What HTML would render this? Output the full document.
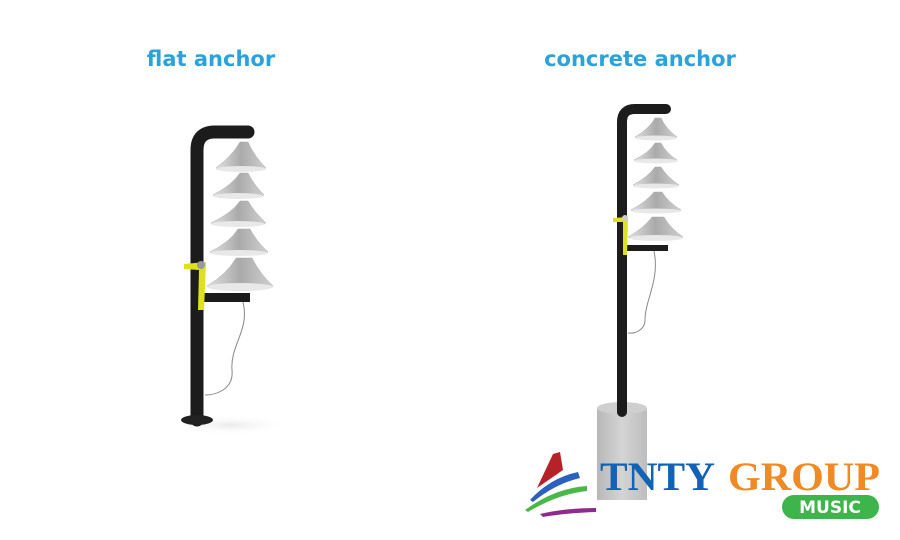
<!DOCTYPE html>
<html><head><meta charset="utf-8"><style>
html,body{margin:0;padding:0;background:#fff;}
svg{display:block}
</style></head><body>
<svg width="900" height="540" viewBox="0 0 900 540" xmlns="http://www.w3.org/2000/svg">
<defs>
<linearGradient id="cone" x1="0" y1="0" x2="1" y2="0">
<stop offset="0" stop-color="#e0e0e0"/><stop offset="0.5" stop-color="#aaaaaa"/><stop offset="1" stop-color="#d0d0d0"/>
</linearGradient>
<linearGradient id="conc" x1="0" y1="0" x2="1" y2="0">
<stop offset="0" stop-color="#b8b8b8"/><stop offset="0.5" stop-color="#d4d4d4"/><stop offset="1" stop-color="#bdbdbd"/>
</linearGradient>
<radialGradient id="sh" cx="0.5" cy="0.5" r="0.5"><stop offset="0" stop-color="#eaeaea"/><stop offset="1" stop-color="#fff" stop-opacity="0"/></radialGradient>
</defs>
<rect width="900" height="540" fill="#fff"/>
<text x="211" y="66" text-anchor="middle" font-family="DejaVu Sans, sans-serif" font-weight="bold" font-size="21" fill="#2aa3dc">flat anchor</text>
<text x="640" y="66" text-anchor="middle" font-family="DejaVu Sans, sans-serif" font-weight="bold" font-size="21" fill="#2aa3dc">concrete anchor</text>

<!-- LEFT -->
<ellipse cx="230" cy="425" rx="60" ry="10" fill="url(#sh)"/>
<path d="M197 420 V150 Q197 132 215 132 H248" stroke="#1c1c1c" stroke-width="13" fill="none" stroke-linecap="round"/>
<ellipse cx="197" cy="420" rx="16" ry="5" fill="#222"/>
<rect x="204" y="293" width="46" height="9" fill="#1c1c1c"/>
<path d="M243 302 C250 330 230 345 232 370 C234 390 215 395 205 395" stroke="#888" stroke-width="1" fill="none"/>
<g fill="url(#cone)" stroke="#aaa" stroke-width="0.5">
<path d="M240 142 L248 142 Q254 156 266 168 Q244 174 216 168 Q232 156 240 142 Z"/>
<path d="M240 173 L248 173 Q254 185 264 195 Q238 200 213 195 Q232 185 240 173 Z"/>
<path d="M240 201 L248 201 Q255 213 266 223 Q238 228 211 223 Q232 213 240 201 Z"/>
<path d="M238 229 L250 229 Q257 242 268 252 Q238 258 210 252 Q230 242 238 229 Z"/>
<path d="M236 258 L252 258 Q260 274 273 286 Q240 293 207 286 Q227 274 236 258 Z"/>
</g>
<g fill="#e8e8e8">
<ellipse cx="241" cy="169" rx="25" ry="3"/>
<ellipse cx="238" cy="196" rx="25" ry="3"/>
<ellipse cx="238" cy="224" rx="27" ry="3"/>
<ellipse cx="239" cy="253" rx="29" ry="3"/>
<ellipse cx="240" cy="287" rx="33" ry="4"/>
</g>
<path d="M184 264 L206 262 L204 310 L198 310 L199 270 L184 269 Z" fill="#dde21d"/>
<circle cx="201" cy="265" r="4" fill="#999"/>

<!-- RIGHT -->
<rect x="597" y="408" width="50" height="92" fill="url(#conc)"/>
<ellipse cx="622" cy="408" rx="25" ry="6" fill="#cfcfcf"/>
<path d="M622 412 V122 Q622 109 635 109 H666" stroke="#1c1c1c" stroke-width="10" fill="none" stroke-linecap="round"/>
<rect x="626" y="245" width="42" height="6" fill="#1c1c1c"/>
<path d="M654 251 C660 280 645 300 645 320 C645 330 635 334 628 333" stroke="#888" stroke-width="1" fill="none"/>
<g fill="url(#cone)" stroke="#aaa" stroke-width="0.5">
<path d="M655 118 L661 118 Q666 129 677 137 Q656 142 635 137 Q649 129 655 118 Z"/>
<path d="M655 143 L661 143 Q666 153 677 160 Q656 165 634 160 Q649 153 655 143 Z"/>
<path d="M655 167 L661 167 Q667 177 679 185 Q656 190 633 185 Q648 177 655 167 Z"/>
<path d="M654 192 L662 192 Q668 202 681 210 Q656 215 631 210 Q646 202 654 192 Z"/>
<path d="M652 217 L664 217 Q670 228 683 237 Q656 243 628 237 Q644 228 652 217 Z"/>
</g>
<g fill="#e8e8e8">
<ellipse cx="656" cy="138" rx="21" ry="2.5"/>
<ellipse cx="656" cy="161" rx="22" ry="2.5"/>
<ellipse cx="656" cy="186" rx="23" ry="2.5"/>
<ellipse cx="656" cy="211" rx="25" ry="2.5"/>
<ellipse cx="656" cy="238" rx="27" ry="3"/>
</g>
<path d="M613 218 L628 217 L627 255 L623 255 L623 222 L613 222 Z" fill="#dde21d"/>
<circle cx="625" cy="218" r="3" fill="#ccc"/>

<!-- LOGO -->
<path d="M537 488 L553 454 L560 452 L563 470 Z" fill="#b52228"/>
<path d="M530 500 Q550 478 578 472 L580 478 Q555 484 533 502 Z" fill="#2d5fbd"/>
<path d="M525 510 Q555 488 587 486 L587 491 Q558 494 528 512 Z" fill="#4bb748"/>
<path d="M540 514 Q565 508 596 508 L596 512 Q566 513 543 517 Z" fill="#8e2c8e"/>
<text x="600" y="490" textLength="115" lengthAdjust="spacingAndGlyphs" font-family="Liberation Serif, serif" font-weight="bold" font-size="40" fill="#1462b3">TNTY</text>
<text x="728" y="490" textLength="152" lengthAdjust="spacingAndGlyphs" font-family="Liberation Serif, serif" font-weight="bold" font-size="40" fill="#f08a24">GROUP</text>
<rect x="782" y="495" width="97" height="24" rx="12" fill="#3db54a"/>
<text x="830" y="513" text-anchor="middle" font-family="DejaVu Sans, sans-serif" font-weight="bold" font-size="17" fill="#fff">MUSIC</text>
</svg>
</body></html>
